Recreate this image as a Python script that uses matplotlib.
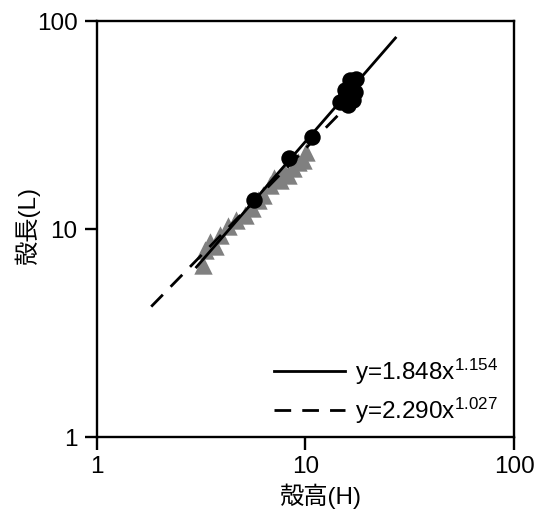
import matplotlib
matplotlib.use("Agg")
import matplotlib.pyplot as plt
import numpy as np
from matplotlib.lines import Line2D

plt.rcParams['font.family'] = ['Liberation Sans', 'Noto Sans CJK JP', 'DejaVu Sans']
plt.rcParams['mathtext.fontset'] = 'custom'
plt.rcParams['mathtext.rm'] = 'Liberation Sans'
plt.rcParams['mathtext.it'] = 'Liberation Sans'

# Data (shell height H, shell length L)
tri_H = [3.23, 3.30, 3.48, 3.68, 3.89, 4.25, 4.64, 5.13, 5.54, 5.92, 6.25,
         6.76, 7.06, 7.55, 7.88, 8.24, 8.71, 9.20, 9.73, 10.05]
tri_L = [6.71, 7.92, 8.66, 8.28, 9.36, 10.3, 11.0, 11.7, 12.6, 13.8, 14.6,
         16.3, 17.6, 17.2, 18.8, 18.2, 19.6, 21.0, 21.5, 23.5]
circ_H = [5.66, 8.34, 10.7, 16.3, 17.5, 15.5, 17.3, 14.6, 16.0, 16.9, 15.5]
circ_L = [13.8, 21.9, 27.7, 52.0, 52.5, 46.6, 45.5, 40.6, 39.5, 41.7, 42.5]

fit1_a, fit1_b = 1.848, 1.154
fit1_range = [3.0, 27.0]
fit2_a, fit2_b = 2.290, 1.027
fit2_range = [1.82, 16.5]

fig = plt.figure(figsize=(5.43, 5.14), dpi=100)
ax = fig.add_axes([0.1786, 0.1498, 0.7680, 0.8093])

ax.scatter(tri_H, tri_L, marker='^', s=175, color='#808080', linewidths=0, zorder=2)
ax.scatter(circ_H, circ_L, marker='o', s=140, color='black', linewidths=0, zorder=3)

x1 = np.logspace(np.log10(fit1_range[0]), np.log10(fit1_range[1]), 50)
ax.plot(x1, fit1_a * x1 ** fit1_b, color='black', lw=2.0, zorder=4)
x2 = np.logspace(np.log10(fit2_range[0]), np.log10(fit2_range[1]), 50)
ax.plot(x2, fit2_a * x2 ** fit2_b, color='black', lw=2.0, dashes=(6, 4), zorder=4)

ax.set_xscale('log')
ax.set_yscale('log')
ax.set_xlim(1, 100)
ax.set_ylim(1, 100)
ax.set_xticks([1, 10, 100])
ax.set_xticklabels(['1', '10', '100'])
ax.set_yticks([1, 10, 100])
ax.set_yticklabels(['1', '10', '100'])
ax.minorticks_off()
ax.tick_params(which='major', direction='out', length=9, width=1.7, labelsize=17.5, pad=5)
for s in ax.spines.values():
    s.set_linewidth(1.7)

ax.set_xlabel('殻高(H)', fontsize=17.5)
ax.set_ylabel('殻長(L)', fontsize=17.5)
ax.xaxis.set_label_coords(0.537, -0.113)
ax.yaxis.set_label_coords(-0.137, 0.51)

handles = [Line2D([], [], color='black', lw=2.0),
           Line2D([], [], color='black', lw=2.0, dashes=(6, 4))]
labels = [r'y=1.848x$^{\mathregular{1.154}}$', r'y=2.290x$^{\mathregular{1.027}}$']
ax.legend(handles, labels, loc='lower right', bbox_to_anchor=(1.016, -0.026),
          frameon=False, fontsize=17.5, handlelength=2.96, handletextpad=0.41,
          labelspacing=0.38)

fig.savefig('out.png', dpi=100)
